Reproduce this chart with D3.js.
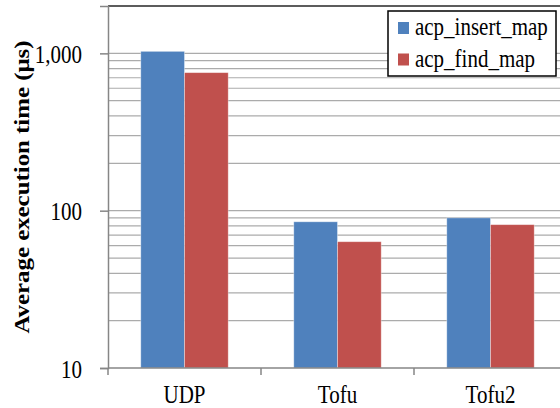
<!DOCTYPE html>
<html>
<head>
<meta charset="utf-8">
<script src="https://cdn.jsdelivr.net/npm/d3@7"></script>
<style>
  html, body { margin: 0; padding: 0; background: #fff; }
  svg text { font-family: "Liberation Serif", "Tinos", "Times New Roman", Times, "DejaVu Serif", serif; }
</style>
</head>
<body>
<svg id="chart" width="560" height="408"></svg>
<script>
// Benchmark data: average execution time per transport (microseconds)
const categories = ["UDP", "Tofu", "Tofu2"];
const seriesNames = ["acp_insert_map", "acp_find_map"];
const insertTimes = [1030, 85, 90];
const findTimes = [754, 63.5, 81.5];
const seriesColors = ["#4F81BD", "#C0504D"];
const yTickValues = [10, 100, 1000];
const yTitle = "Average execution time (\u03bcs)";

const seriesValues = [insertTimes, findTimes];
const rows = categories.map((c, i) => ({
  category: c,
  values: seriesNames.map((s, j) => ({ series: s, value: seriesValues[j][i], color: seriesColors[j] }))
}));

const svg = d3.select("#chart");
const m = { left: 108, top: 6, bottom: 368, right: 567 };
const textStretch = 1.15;

const x = d3.scaleBand().domain(categories).range([m.left, m.right]).paddingInner(0).paddingOuter(0);
const x1 = d3.scaleBand().domain(seriesNames).range([0, x.bandwidth()]).paddingInner(0).paddingOuter(0.75);
const y = d3.scaleLog().domain([10, 2000]).range([m.bottom, m.top]);

// Minor/major horizontal gridlines
svg.append("g")
  .selectAll("line")
  .data(y.ticks().filter(v => v > 10 && v < 2000))
  .join("line")
  .attr("x1", m.left).attr("x2", m.right)
  .attr("y1", d => y(d)).attr("y2", d => y(d))
  .attr("stroke", "#ababab")
  .attr("stroke-width", 1.2);

// Top frame line of the plot area
svg.append("line")
  .attr("x1", m.left).attr("x2", m.right)
  .attr("y1", m.top).attr("y2", m.top)
  .attr("stroke", "#262626").attr("stroke-width", 1.5);

// Bars
const groups = svg.append("g")
  .selectAll("g")
  .data(rows)
  .join("g")
  .attr("transform", d => `translate(${x(d.category)},0)`);

groups.selectAll("rect")
  .data(d => d.values)
  .join("rect")
  .attr("x", d => x1(d.series))
  .attr("width", x1.bandwidth())
  .attr("y", d => y(d.value))
  .attr("height", d => y(10) - y(d.value))
  .attr("fill", d => d.color)
  .attr("stroke", "rgba(255,255,255,0.45)")
  .attr("stroke-width", 0.8);

// Y axis
const yAxis = svg.append("g")
  .attr("transform", `translate(${m.left},0)`)
  .call(d3.axisLeft(y).tickValues(yTickValues).tickFormat(d3.format(",")).tickSize(8).tickPadding(18));
yAxis.attr("font-family", null);
yAxis.select(".domain").attr("stroke", "#868686").attr("stroke-width", 1.5);
yAxis.selectAll(".tick line").attr("stroke", "#868686").attr("stroke-width", 1.5);
yAxis.selectAll(".tick text")
  .attr("fill", "#000")
  .attr("font-size", 21)
  .attr("dy", "0.38em")
  .attr("transform", `scale(1,${textStretch})`);

// X axis: ticks sit on the category boundaries
const xBase = svg.append("g").attr("transform", `translate(0,${m.bottom})`);
xBase.append("line")
  .attr("x1", m.left).attr("x2", m.right)
  .attr("stroke", "#868686").attr("stroke-width", 1.5);
xBase.selectAll("line.tick")
  .data(categories.map(c => x(c)))
  .join("line")
  .attr("class", "tick")
  .attr("x1", d => d).attr("x2", d => d)
  .attr("y1", 0).attr("y2", 7)
  .attr("stroke", "#868686").attr("stroke-width", 1.5);

svg.append("g")
  .selectAll("g")
  .data(categories)
  .join("g")
  .attr("transform", d => `translate(${x(d) + x.bandwidth() / 2},403) scale(1,${textStretch})`)
  .append("text")
  .attr("text-anchor", "middle")
  .attr("font-size", 21)
  .attr("fill", "#000")
  .text(d => d);

// Y axis title
svg.append("text")
  .attr("transform", "translate(22,187) rotate(-90)")
  .attr("text-anchor", "middle")
  .attr("dominant-baseline", "central")
  .attr("font-size", 21)
  .attr("font-weight", "bold")
  .attr("textLength", 293)
  .attr("lengthAdjust", "spacingAndGlyphs")
  .attr("fill", "#000")
  .text(yTitle);

// Legend
const legend = svg.append("g").attr("transform", "translate(388,11)");
legend.append("rect")
  .attr("width", 168).attr("height", 65)
  .attr("fill", "#fff")
  .attr("stroke", "#000").attr("stroke-width", 1.5);
const items = legend.selectAll("g.item")
  .data(seriesNames)
  .join("g")
  .attr("class", "item")
  .attr("transform", (d, i) => `translate(0,${i * 31.5})`);
items.append("rect")
  .attr("x", 10).attr("y", 11)
  .attr("width", 11).attr("height", 12)
  .attr("fill", (d, i) => seriesColors[i]);
items.append("g")
  .attr("transform", `translate(27,24) scale(1,${textStretch})`)
  .append("text")
  .attr("font-size", 21)
  .attr("fill", "#000")
  .text(d => d);
</script>
</body>
</html>
